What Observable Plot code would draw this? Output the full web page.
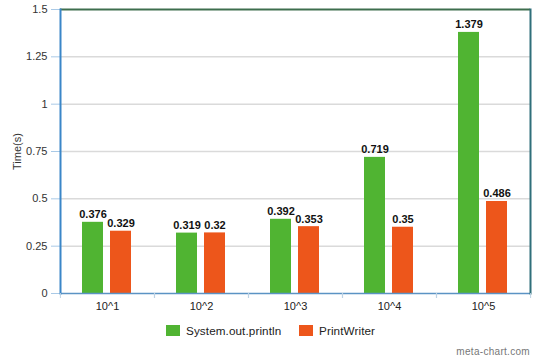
<!DOCTYPE html>
<html>
<head>
<meta charset="utf-8">
<script src="https://cdn.jsdelivr.net/npm/d3@7"></script>
<script src="https://cdn.jsdelivr.net/npm/@observablehq/plot@0.6"></script>
<style>
  html, body { margin: 0; padding: 0; background: #fff; }
  #wrap { position: relative; width: 540px; height: 360px; font-family: "Liberation Sans", Arial, sans-serif; }
  #legend { position: absolute; left: 0; top: 324px; width: 540px; height: 16px; }
  .item { position: absolute; top: 0; display: flex; align-items: center; font-size: 11.7px; color: #222; letter-spacing: 0.1px; }
  .sw { width: 14px; height: 11px; margin-right: 6px; }
  #credit { position: absolute; right: 10px; top: 346px; font-size: 10px; color: #777; letter-spacing: 0.3px; }
</style>
</head>
<body>
<div id="wrap"></div>
<script>
const categories = ["10^1", "10^2", "10^3", "10^4", "10^5"];
const seriesNames = ["System.out.println", "PrintWriter"];
const printlnValues = [0.376, 0.319, 0.392, 0.719, 1.379];
const printWriterValues = [0.329, 0.32, 0.353, 0.35, 0.486];
const valueLabels = [["0.376", "0.329"], ["0.319", "0.32"], ["0.392", "0.353"], ["0.719", "0.35"], ["1.379", "0.486"]];
const yTicks = [0, 0.25, 0.5, 0.75, 1, 1.25, 1.5];
const colors = ["#50B432", "#ED561B"];

const data = categories.flatMap((c, i) => [
  {cat: c, series: seriesNames[0], value: printlnValues[i], label: valueLabels[i][0]},
  {cat: c, series: seriesNames[1], value: printWriterValues[i], label: valueLabels[i][1]}
]);

const W = 540, ML = 59, MR = 10;
const half = (W - ML - MR) / categories.length / 2;

const chart = Plot.plot({
  width: W,
  height: 318,
  marginTop: 9,
  marginBottom: 25,
  marginLeft: ML,
  marginRight: MR,
  style: {fontFamily: "Liberation Sans, Arial, sans-serif", fontSize: "11px", color: "#333", background: "white"},
  fx: {domain: categories, padding: 0, axis: null, label: null},
  x: {domain: seriesNames, paddingInner: 0.241, paddingOuter: 0.759, axis: null},
  y: {domain: [0, 1.5], axis: null},
  color: {domain: seriesNames, range: colors},
  marks: [
    Plot.gridY({ticks: yTicks.filter(t => t > 0 && t < 1.5), stroke: "#dadada", strokeOpacity: 1, strokeWidth: 1.5}),
    Plot.axisY({ticks: yTicks, tickSize: 9, tickPadding: 4, stroke: "#a9c9e6", tickFormat: d => String(d),
      label: "Time(s)", labelAnchor: "center", labelOffset: 47, labelArrow: false, fill: "#333"}),
    Plot.barY(data, {fx: "cat", x: "series", y: "value", fill: "series"}),
    Plot.text(data, {fx: "cat", x: "series", y: "value", text: "label", lineAnchor: "bottom", dy: -4,
      fontWeight: "bold", fontSize: 11, fill: "#111", letterSpacing: "0.7px"}),
    Plot.ruleY([1.5], {stroke: "#3e6e4e", strokeWidth: 2}),
    Plot.ruleY([0], {stroke: "#5b93c4", strokeWidth: 1.5}),
    Plot.frame({anchor: "left", facetAnchor: "left", stroke: "#3a86c8", strokeWidth: 2}),
    Plot.frame({anchor: "right", facetAnchor: "right", stroke: "#2f6f7a", strokeWidth: 2}),
    Plot.axisFx({anchor: "bottom", tickSize: 0, tickPadding: 9, fill: "#222", label: null}),
    Plot.axisFx({anchor: "bottom", tickSize: 5, tickFormat: () => "", dx: -half, stroke: "#bcd2e4", label: null}),
    Plot.axisFx({anchor: "bottom", tickSize: 5, tickFormat: () => "", dx: half, stroke: "#bcd2e4", label: null})
  ]
});

const wrap = document.getElementById("wrap");
wrap.appendChild(chart);

const legend = document.createElement("div");
legend.id = "legend";
const lefts = [166, 299];
seriesNames.forEach((s, i) => {
  const item = document.createElement("div");
  item.className = "item";
  item.style.left = lefts[i] + "px";
  const sw = document.createElement("div");
  sw.className = "sw";
  sw.style.background = colors[i];
  item.appendChild(sw);
  const t = document.createElement("span");
  t.textContent = s;
  item.appendChild(t);
  legend.appendChild(item);
});
wrap.appendChild(legend);

const credit = document.createElement("div");
credit.id = "credit";
credit.textContent = "meta-chart.com";
wrap.appendChild(credit);
</script>
</body>
</html>
